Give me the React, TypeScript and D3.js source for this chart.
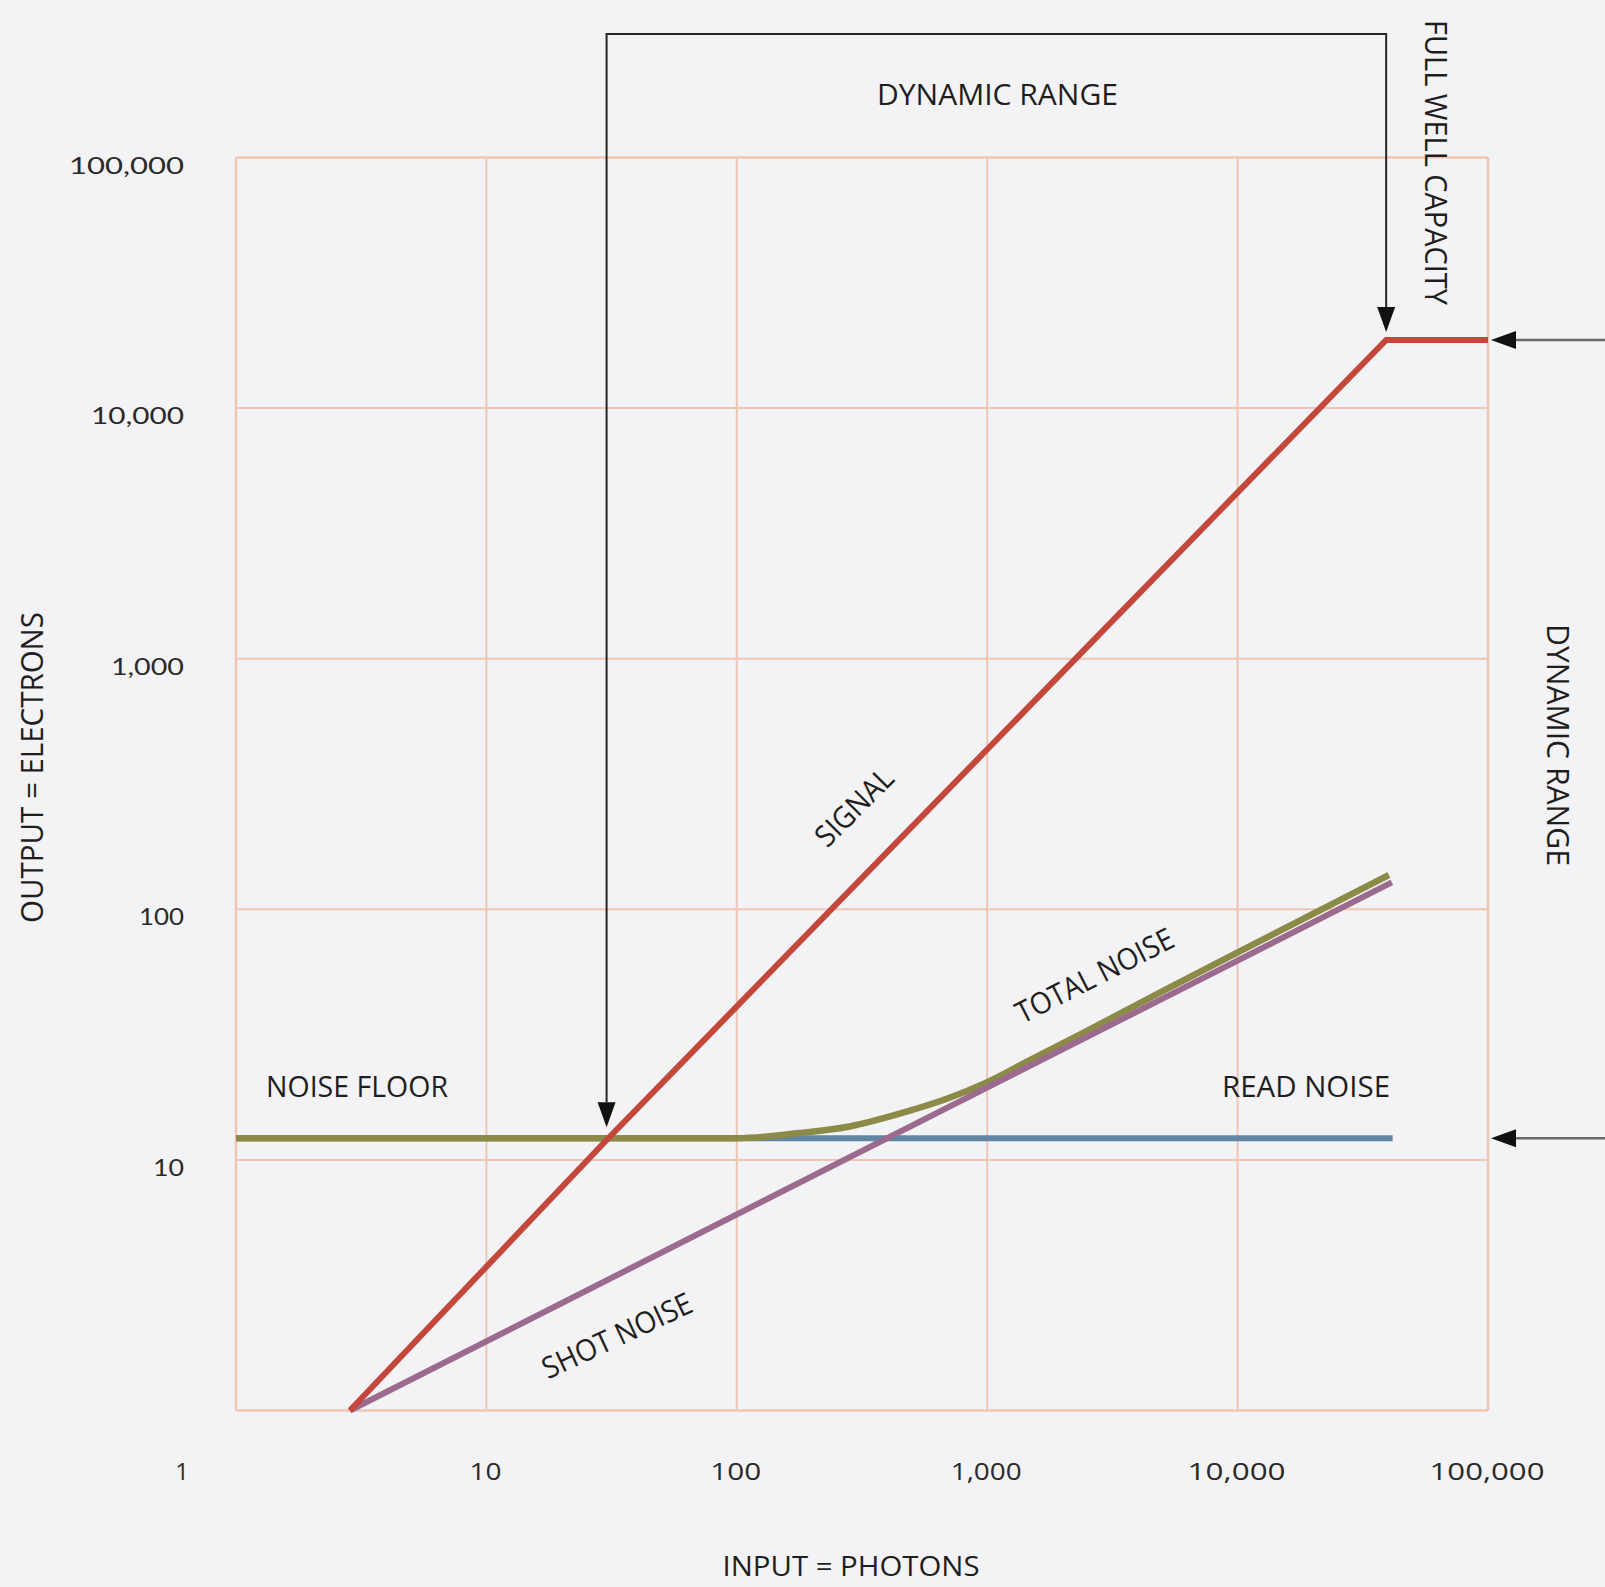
import React from "react";
import * as d3 from "d3";

// ---- data ----
const gridValues = [1, 10, 100, 1000, 10000, 100000];
const xTickLabels = ["1", "10", "100", "1,000", "10,000", "100,000"];
const yTickValues = [100000, 10000, 1000, 100, 10];
const yTickLabels = ["100,000", "10,000", "1,000", "100", "10"];

// [photons, electrons]
const signal: [number, number][] = [
  [2.85, 1],
  [30.2, 12.0],
  [39200, 18700],
  [100000, 18700],
];
const shotNoise: [number, number][] = [
  [2.85, 1],
  [41300, 128],
];
const readNoise: [number, number][] = [
  [1, 12.2],
  [41600, 12.2],
];
const totalNoise: [number, number][] = [
  [1, 12.2],
  [100, 12.2],
  [178, 12.8],
  [282, 13.6],
  [447, 15.3],
  [707, 17.7],
  [975, 20.2],
  [1514, 25.3],
  [2397, 32.0],
  [5000, 47],
  [9620, 66],
  [40200, 137],
];
const noiseFloorPoint: [number, number] = [30.2, 12.2];
const fullWellPoint: [number, number] = [39200, 18700];

const W = 1605;
const H = 1587;
const FONT = "'Open Sans', 'Noto Sans', sans-serif";
const TICKFONT = "Lato, 'Open Sans', sans-serif";
const CAP = 0.714;

function RotText(props: {
  cx: number; cy: number; angle: number; text: string; size: number; len: number; fill?: string; font?: string;
}) {
  const { cx, cy, angle, text, size, len, fill = "#1e1e1e", font = FONT } = props;
  return (
    <g transform={`translate(${cx},${cy}) rotate(${angle})`}>
      <text x={0} y={(size * CAP) / 2} textAnchor="middle" fontFamily={font} fontSize={size}
        fill={fill} textLength={len} lengthAdjust="spacingAndGlyphs">{text}</text>
    </g>
  );
}

export default function App() {
  const x = d3.scaleLog().domain([1, 100000]).range([236, 1488]);
  const y = d3.scaleLog().domain([1, 100000]).range([1410.5, 157.5]);

  const line = d3.line<[number, number]>().x((d) => x(d[0])).y((d) => y(d[1]));
  const smooth = d3.line<[number, number]>().x((d) => x(d[0])).y((d) => y(d[1])).curve(d3.curveMonotoneX);

  const gridColor = "#efc6b6";
  const topY = 34;
  const dx1 = x(noiseFloorPoint[0]);
  const dy1 = y(noiseFloorPoint[1]) - 11;
  const dx2 = x(fullWellPoint[0]);
  const dy2 = y(fullWellPoint[1]) - 8;
  const ahL = 25;
  const ahW = 9;
  const rightArrowYs = [y(fullWellPoint[1]), y(readNoise[0][1])];
  const rightTip = x(100000) + 3;

  const xLabelWidths = [10, 32, 51, 71, 98, 115];
  const yLabelWidths = [115, 93, 73, 45, 31];

  return (
    <svg width={W} height={H} style={{ position: "absolute", left: 0, top: 0 }}>
      <rect x={0} y={0} width={W} height={H} fill="#f3f2f4" />

      {/* grid */}
      {gridValues.map((v) => (
        <line key={"gx" + v} x1={x(v)} x2={x(v)} y1={y(100000)} y2={y(1)} stroke={gridColor}
          strokeWidth={v === 1 || v === 100000 ? 2.5 : 2} />
      ))}
      {gridValues.map((v) => (
        <line key={"gy" + v} x1={x(1)} x2={x(100000)} y1={y(v)} y2={y(v)} stroke={gridColor}
          strokeWidth={v === 1 || v === 100000 ? 2.5 : 2} />
      ))}

      {/* series */}
      <path d={line(readNoise) || ""} fill="none" stroke="#5f86a5" strokeWidth={6} />
      <path d={smooth(totalNoise) || ""} fill="none" stroke="#8b8a47" strokeWidth={6.5} />
      <path d={line(shotNoise) || ""} fill="none" stroke="#9c6a8e" strokeWidth={6} />
      <path d={line(signal) || ""} fill="none" stroke="#c4473b" strokeWidth={6} strokeLinejoin="miter" />

      {/* dynamic range bracket (top) */}
      <path d={`M${dx1},${dy1 - ahL} L${dx1},${topY} L${dx2},${topY} L${dx2},${dy2 - ahL}`}
        fill="none" stroke="#262626" strokeWidth={2} />
      <path d={`M${dx1},${dy1} L${dx1 - ahW},${dy1 - ahL} L${dx1 + ahW},${dy1 - ahL} Z`} fill="#111" />
      <path d={`M${dx2},${dy2} L${dx2 - ahW},${dy2 - ahL} L${dx2 + ahW},${dy2 - ahL} Z`} fill="#111" />

      {/* right arrows */}
      {rightArrowYs.map((ay, i) => (
        <g key={"ra" + i}>
          <line x1={rightTip + ahL} x2={W} y1={ay} y2={ay} stroke="#6a6a6a" strokeWidth={2.5} />
          <path d={`M${rightTip},${ay} L${rightTip + ahL},${ay - ahW} L${rightTip + ahL},${ay + ahW} Z`} fill="#111" />
        </g>
      ))}

      {/* tick labels */}
      {yTickValues.map((v, i) => (
        <text key={"yl" + v} x={184} y={y(v) + 16} textAnchor="end" fontFamily={TICKFONT} fontSize={23}
          fill="#2a2a2a" textLength={yLabelWidths[i]} lengthAdjust="spacingAndGlyphs">{yTickLabels[i]}</text>
      ))}
      {gridValues.map((v, i) =>
        i === 0 ? (
          <text key="xl1" x={182} y={1480} textAnchor="middle" fontFamily={FONT} fontSize={24} fill="#2a2a2a">
            {xTickLabels[i]}
          </text>
        ) : (
          <text key={"xl" + v} x={x(v) - 1} y={1480} textAnchor="middle" fontFamily={FONT} fontSize={24}
            fill="#2a2a2a" textLength={xLabelWidths[i]} lengthAdjust="spacingAndGlyphs">{xTickLabels[i]}</text>
        )
      )}

      {/* axis titles */}
      <text x={851} y={1576} textAnchor="middle" fontFamily={FONT} fontSize={27} fill="#1e1e1e"
        textLength={257} lengthAdjust="spacingAndGlyphs">INPUT = PHOTONS</text>
      <RotText cx={31.5} cy={767.5} angle={-90} text="OUTPUT = ELECTRONS" size={31} len={311} />

      {/* annotations */}
      <text x={997.5} y={105} textAnchor="middle" fontFamily={FONT} fontSize={30} fill="#1e1e1e"
        textLength={241} lengthAdjust="spacingAndGlyphs">DYNAMIC RANGE</text>
      <RotText cx={1436.5} cy={162.5} angle={90} text="FULL WELL CAPACITY" size={31} len={285} />
      <RotText cx={1558} cy={745} angle={90} text="DYNAMIC RANGE" size={31} len={242} />
      <text x={266} y={1097} fontFamily={FONT} fontSize={30} fill="#1e1e1e"
        textLength={182} lengthAdjust="spacingAndGlyphs">NOISE FLOOR</text>
      <text x={1222} y={1097} fontFamily={FONT} fontSize={30} fill="#1e1e1e"
        textLength={168} lengthAdjust="spacingAndGlyphs">READ NOISE</text>
      <RotText cx={854} cy={807} angle={-45} text="SIGNAL" size={30} len={97} />
      <RotText cx={1094.5} cy={975.5} angle={-27} text="TOTAL NOISE" size={30} len={173} />
      <RotText cx={617} cy={1335.5} angle={-25} text="SHOT NOISE" size={30} len={162} />
    </svg>
  );
}
